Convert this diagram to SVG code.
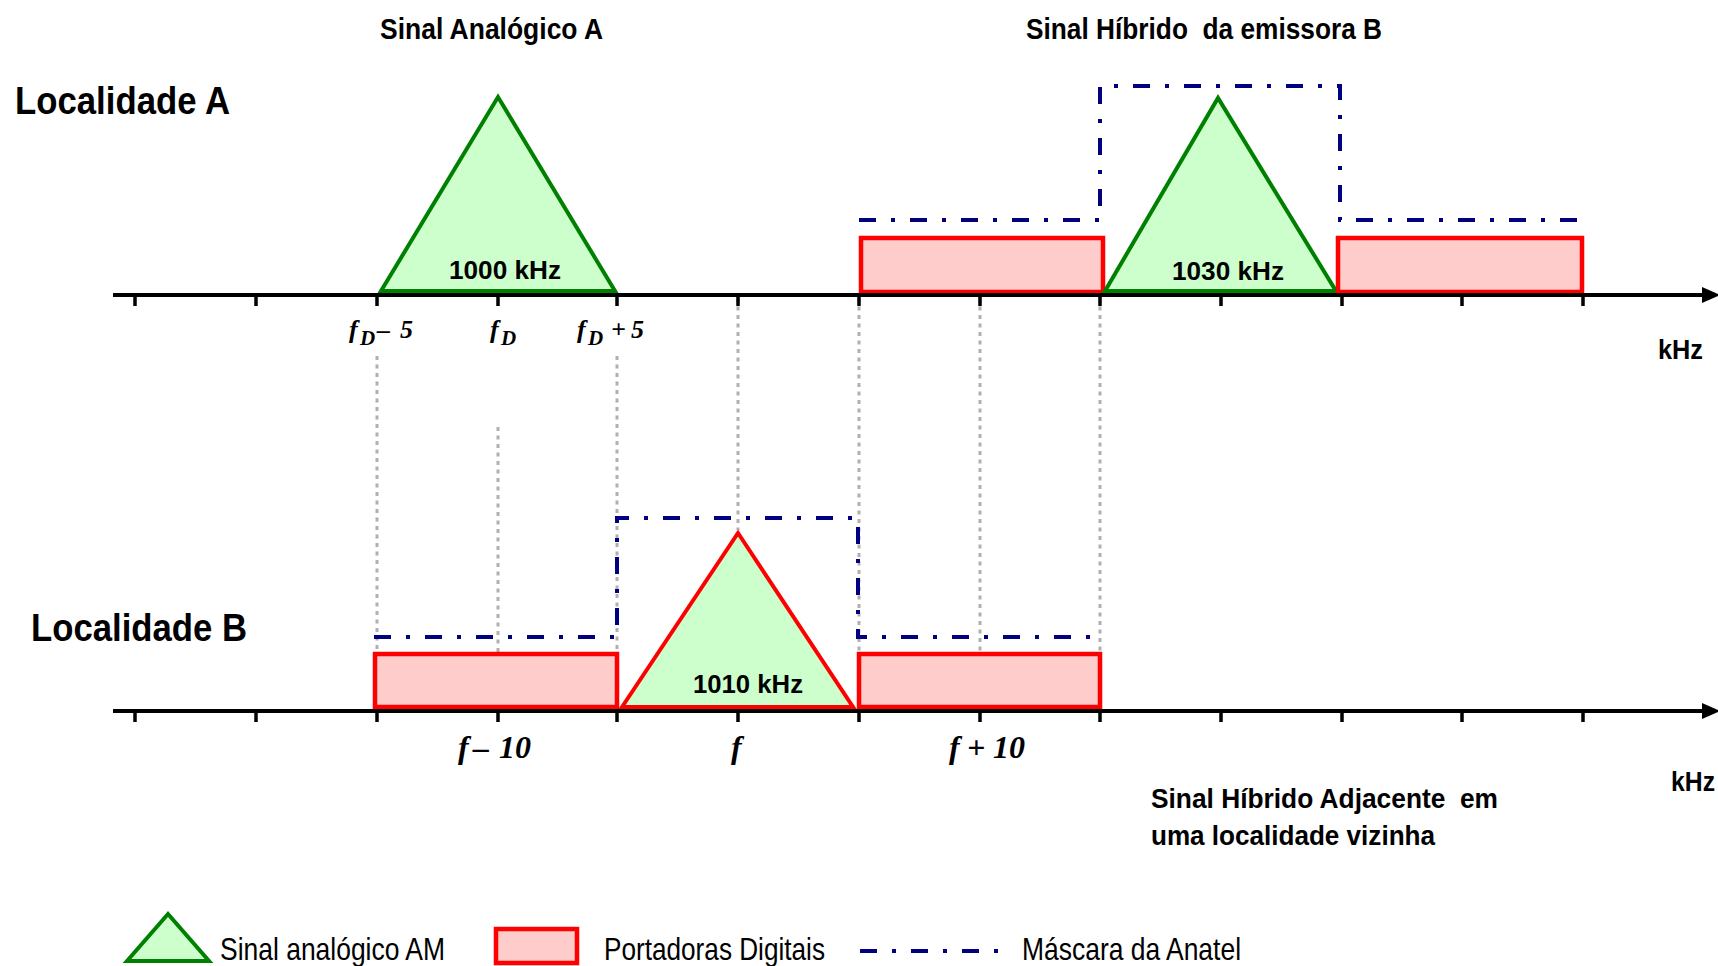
<svg xmlns="http://www.w3.org/2000/svg" width="1718" height="966" viewBox="0 0 1718 966">
<style>
.sans{font-family:"Liberation Sans",Arial,sans-serif;fill:#000;white-space:pre}
.b{font-weight:bold}
.ser{font-family:"Liberation Serif","Times New Roman",serif;font-style:italic;font-weight:bold;fill:#000;white-space:pre}
.tri{fill:#CCFFCC;stroke:#008000;stroke-width:4;stroke-linejoin:miter}
.tri-r{fill:#CCFFCC;stroke:#FF0000;stroke-width:4}
.rect{fill:#FFCCCC;stroke:#FF0000;stroke-width:4.5}
.mask{fill:none;stroke:#000080;stroke-width:4;stroke-dasharray:17 15 4 15}
.axis{stroke:#000;stroke-width:4;fill:none}
.tick{stroke:#000;stroke-width:3.5}
.guide{stroke:#B0B0B0;stroke-width:3;stroke-dasharray:4 4.5;fill:none}
</style>

<g id="guides">
<path class="guide" d="M377,356V654 M498,427V654 M617,356V654 M738,298V530 M859,298V654 M980,298V654 M1100,298V654"/>
</g>

<g id="localidade-a">
<text class="sans b" x="15" y="114" font-size="39" textLength="215" lengthAdjust="spacingAndGlyphs">Localidade A</text>
<text class="sans b" x="380" y="39" font-size="29" textLength="223" lengthAdjust="spacingAndGlyphs">Sinal Analógico A</text>
<text class="sans b" x="1026" y="39" font-size="29" textLength="356" lengthAdjust="spacingAndGlyphs">Sinal Híbrido  da emissora B</text>
</g>

<g id="sinal-analogico-a">
<polygon class="tri" points="381,291 498,97 615,291"/>
<text class="sans b" x="449" y="279" font-size="26" textLength="112" lengthAdjust="spacingAndGlyphs">1000 kHz</text>
</g>

<g id="sinal-hibrido-b">
<path class="mask" d="M859,220H1100V86H1340V220H1581"/>
<rect class="rect" x="861" y="238" width="242" height="54"/>
<polygon class="tri" points="1105,291 1218,98 1336,291"/>
<rect class="rect" x="1338" y="238" width="244" height="54"/>
<text class="sans b" x="1172" y="280" font-size="26" textLength="112" lengthAdjust="spacingAndGlyphs">1030 kHz</text>
</g>

<g id="axis-a">
<path class="axis" d="M113,295H1706"/>
<polygon points="1702,287 1720,295 1702,303" fill="#000"/>
<path class="tick" d="M135,295V306 M256,295V306 M377,295V306 M498,295V306 M617,295V306 M738,295V306 M859,295V306 M980,295V306 M1100,295V306 M1221,295V306 M1342,295V306 M1462,295V306 M1583,295V306"/>
<text class="sans b" x="1658" y="359" font-size="27" textLength="45" lengthAdjust="spacingAndGlyphs">kHz</text>
<text class="ser" y="338" font-size="26"><tspan x="349">f</tspan><tspan x="360" font-size="21" dy="7">D</tspan><tspan x="377" dy="-7">–</tspan><tspan x="400">5</tspan></text>
<text class="ser" y="338" font-size="26"><tspan x="490">f</tspan><tspan x="501" font-size="21" dy="7">D</tspan></text>
<text class="ser" y="338" font-size="26"><tspan x="577">f</tspan><tspan x="588" font-size="21" dy="7">D</tspan><tspan x="611" dy="-7">+</tspan><tspan x="631">5</tspan></text>
</g>

<g id="localidade-b">
<text class="sans b" x="31" y="641" font-size="39" textLength="216" lengthAdjust="spacingAndGlyphs">Localidade B</text>
</g>

<g id="sinal-hibrido-adjacente">
<path class="mask" d="M374,637H617V518H858V637H1100"/>
<rect class="rect" x="375" y="654" width="242" height="53"/>
<polygon class="tri-r" points="622,707 738,533 853,707"/>
<rect class="rect" x="859" y="654" width="241" height="53"/>
<text class="sans b" x="693" y="693" font-size="26" textLength="110" lengthAdjust="spacingAndGlyphs">1010 kHz</text>
</g>

<g id="axis-b">
<path class="axis" d="M113,711H1706"/>
<polygon points="1702,703 1720,711 1702,719" fill="#000"/>
<path class="tick" d="M135,711V722 M256,711V722 M377,711V722 M498,711V722 M617,711V722 M738,711V722 M859,711V722 M980,711V722 M1100,711V722 M1221,711V722 M1342,711V722 M1462,711V722 M1583,711V722"/>
<text class="sans b" x="1671" y="791" font-size="27" textLength="44" lengthAdjust="spacingAndGlyphs">kHz</text>
<text class="ser" y="758" font-size="32"><tspan x="458">f</tspan><tspan x="473">–</tspan><tspan x="499">10</tspan></text>
<text class="ser" x="731" y="758" font-size="32">f</text>
<text class="ser" y="758" font-size="32"><tspan x="949">f</tspan><tspan x="967">+</tspan><tspan x="993">10</tspan></text>
<text class="sans b" x="1151" y="808" font-size="28" textLength="347" lengthAdjust="spacingAndGlyphs">Sinal Híbrido Adjacente  em</text>
<text class="sans b" x="1151" y="845" font-size="28" textLength="284" lengthAdjust="spacingAndGlyphs">uma localidade vizinha</text>
</g>

<g id="legend">
<polygon class="tri" points="127,961 168,914 209,961"/>
<text class="sans" x="220" y="960" font-size="32" textLength="225" lengthAdjust="spacingAndGlyphs">Sinal analógico AM</text>
<rect class="rect" x="496" y="929" width="81" height="34"/>
<text class="sans" x="604" y="960" font-size="32" textLength="221" lengthAdjust="spacingAndGlyphs">Portadoras Digitais</text>
<path class="mask" d="M860,951H998" stroke-width="5"/>
<text class="sans" x="1022" y="960" font-size="32" textLength="219" lengthAdjust="spacingAndGlyphs">Máscara da Anatel</text>
</g>
</svg>
